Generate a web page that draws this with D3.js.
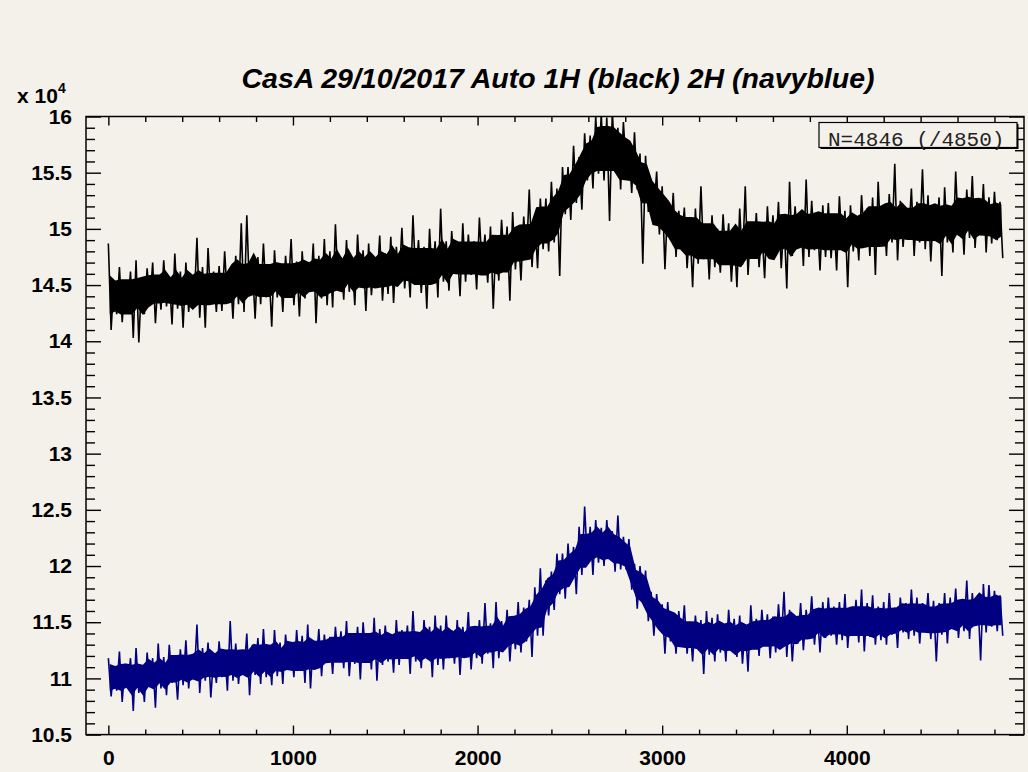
<!DOCTYPE html>
<html>
<head>
<meta charset="utf-8">
<script src="https://cdn.jsdelivr.net/npm/d3@7"></script>
<style>
  html, body { margin: 0; padding: 0; background: #f4f1ea; }
  svg { display: block; }
</style>
</head>
<body>
<svg id="chart" width="1028" height="772"></svg>
<script>
// Samples are grouped in bins of 30; each bin keeps its highest and lowest reading
// (in units of 10^4 counts). The trace zig-zags between them.
const binSize = 30;

const blackHi = [
  14.87, 14.54, 14.66, 14.53, 14.62, 14.72, 14.53, 14.65, 14.70, 14.58,
  14.72, 14.57, 14.78, 14.62, 14.70, 14.56, 14.92, 14.66, 14.83, 14.62,
  14.67, 14.80, 14.62, 14.76, 15.05, 15.12, 14.68, 14.75, 14.87, 14.64,
  14.81, 14.67, 14.76, 14.91, 14.71, 14.80, 14.68, 14.87, 14.76, 14.91,
  14.80, 15.04, 14.75, 14.90, 14.73, 14.95, 14.81, 14.87, 14.74, 14.94,
  14.78, 14.93, 14.84, 15.01, 14.78, 15.12, 14.90, 14.84, 15.00, 14.89,
  15.18, 14.89, 14.98, 14.85, 15.05, 14.95, 14.89, 15.10, 14.95, 15.02,
  14.93, 15.08, 15.02, 15.15, 15.00, 15.11, 15.35, 15.11, 15.27, 15.27,
  15.42, 15.36, 15.55, 15.55, 15.74, 15.64, 15.85, 15.83, 16.00, 16.02,
  15.99, 16.05, 15.90, 15.95, 15.76, 15.86, 15.67, 15.65, 15.44, 15.51,
  15.38, 15.24, 15.32, 15.16, 15.19, 15.04, 15.18, 15.38, 15.04, 15.12,
  15.00, 15.13, 15.05, 14.96, 15.18, 15.38, 15.05, 15.14, 15.00, 15.20,
  15.12, 15.24, 15.08, 15.42, 15.20, 15.14, 15.44, 15.25, 15.10, 15.21,
  15.23, 15.10, 15.29, 15.16, 15.21, 15.10, 15.30, 15.18, 15.28, 15.42,
  15.19, 15.31, 15.58, 15.25, 15.17, 15.36, 15.24, 15.53, 15.30, 15.20,
  15.28, 15.37, 15.20, 15.51, 15.26, 15.35, 15.47, 15.23, 15.40, 15.28,
  15.33, 15.24
];
const blackLo = [
  14.10, 14.24, 14.17, 14.29, 14.03, 13.99, 14.24, 14.32, 14.16, 14.28,
  14.31, 14.15, 14.29, 14.12, 14.26, 14.35, 14.21, 14.12, 14.34, 14.26,
  14.27, 14.37, 14.20, 14.33, 14.26, 14.41, 14.20, 14.33, 14.39, 14.13,
  14.39, 14.26, 14.44, 14.32, 14.22, 14.38, 14.44, 14.16, 14.38, 14.32,
  14.30, 14.48, 14.37, 14.44, 14.32, 14.48, 14.27, 14.41, 14.50, 14.36,
  14.42, 14.34, 14.52, 14.47, 14.39, 14.56, 14.43, 14.29, 14.52, 14.39,
  14.53, 14.45, 14.60, 14.40, 14.53, 14.59, 14.46, 14.63, 14.52, 14.29,
  14.54, 14.67, 14.36, 14.64, 14.54, 14.75, 14.66, 14.65, 14.82, 14.80,
  14.88, 14.58, 15.13, 15.08, 15.23, 15.17, 15.43, 15.36, 15.49, 15.43,
  15.07, 15.53, 15.35, 15.53, 15.32, 15.35, 14.69, 15.15, 15.15, 14.95,
  14.64, 14.90, 14.75, 14.84, 14.65, 14.48, 14.69, 14.73, 14.55, 14.66,
  14.61, 14.71, 14.53, 14.48, 14.68, 14.59, 14.75, 14.66, 14.56, 14.74,
  14.77, 14.65, 14.47, 14.76, 14.84, 14.67, 14.75, 14.81, 14.63, 14.75,
  14.74, 14.63, 14.83, 14.48, 14.80, 14.72, 14.88, 14.76, 14.59, 14.86,
  14.76, 14.88, 14.72, 14.84, 14.92, 14.76, 14.88, 14.82, 14.71, 14.92,
  14.58, 14.88, 14.79, 14.94, 14.77, 14.92, 14.83, 14.96, 14.79, 14.87,
  14.90, 14.74
];

const navyHi = [
  11.18, 11.09, 11.24, 11.13, 11.18, 11.27, 11.11, 11.23, 11.18, 11.31,
  11.19, 11.30, 11.15, 11.26, 11.34, 11.19, 11.48, 11.27, 11.32, 11.19,
  11.33, 11.24, 11.51, 11.31, 11.23, 11.40, 11.30, 11.36, 11.44, 11.29,
  11.43, 11.32, 11.39, 11.31, 11.43, 11.38, 11.48, 11.34, 11.44, 11.39,
  11.37, 11.46, 11.42, 11.51, 11.36, 11.46, 11.50, 11.40, 11.54, 11.44,
  11.47, 11.39, 11.52, 11.43, 11.47, 11.60, 11.39, 11.52, 11.46, 11.56,
  11.47, 11.56, 11.43, 11.52, 11.46, 11.59, 11.42, 11.52, 11.67, 11.49,
  11.68, 11.51, 11.61, 11.52, 11.68, 11.63, 11.70, 11.81, 11.98, 11.87,
  11.95, 12.11, 12.11, 12.20, 12.17, 12.35, 12.53, 12.35, 12.41, 12.34,
  12.41, 12.31, 12.45, 12.26, 12.24, 12.02, 12.00, 11.96, 11.77, 11.75,
  11.66, 11.68, 11.55, 11.60, 11.65, 11.49, 11.56, 11.52, 11.60, 11.54,
  11.57, 11.48, 11.61, 11.53, 11.56, 11.48, 11.65, 11.53, 11.61, 11.57,
  11.55, 11.66, 11.77, 11.61, 11.55, 11.67, 11.61, 11.73, 11.60, 11.68,
  11.72, 11.64, 11.68, 11.75, 11.61, 11.70, 11.79, 11.67, 11.74, 11.64,
  11.68, 11.76, 11.63, 11.72, 11.67, 11.79, 11.72, 11.67, 11.76, 11.69,
  11.67, 11.76, 11.72, 11.80, 11.67, 11.87, 11.76, 11.72, 11.84, 11.83,
  11.78, 11.74
];
const navyLo = [
  10.84, 10.89, 10.79, 10.93, 10.71, 10.87, 10.79, 10.93, 10.74, 10.91,
  10.85, 10.96, 10.81, 10.94, 10.91, 11.00, 10.87, 10.98, 10.83, 10.96,
  11.01, 10.89, 10.98, 10.95, 11.05, 10.85, 11.03, 10.95, 11.01, 10.94,
  11.02, 10.95, 11.10, 11.01, 11.08, 10.96, 10.91, 11.09, 11.02, 11.15,
  11.04, 11.15, 11.09, 11.02, 11.13, 10.99, 11.16, 11.08, 10.98, 11.12,
  11.15, 11.05, 11.12, 11.19, 11.04, 11.15, 11.09, 11.19, 11.01, 11.12,
  11.08, 11.18, 11.13, 11.03, 11.22, 11.08, 11.18, 11.13, 11.22, 11.09,
  11.18, 11.26, 11.15, 11.26, 11.23, 11.33, 11.19, 11.38, 11.38, 11.56,
  11.61, 11.75, 11.71, 11.85, 11.75, 11.92, 12.02, 11.92, 12.03, 12.00,
  12.06, 11.95, 11.97, 11.97, 11.79, 11.62, 11.67, 11.51, 11.38, 11.46,
  11.22, 11.33, 11.22, 11.31, 11.22, 11.15, 11.26, 11.04, 11.21, 11.15,
  11.23, 11.15, 11.26, 11.19, 11.13, 11.06, 11.26, 11.20, 11.30, 11.18,
  11.23, 11.32, 11.19, 11.15, 11.31, 11.25, 11.37, 11.30, 11.23, 11.36,
  11.38, 11.30, 11.34, 11.27, 11.40, 11.32, 11.24, 11.37, 11.30, 11.34,
  11.30, 11.39, 11.27, 11.41, 11.35, 11.38, 11.31, 11.44, 11.35, 11.15,
  11.39, 11.31, 11.44, 11.36, 11.42, 11.35, 11.47, 11.16, 11.41, 11.46,
  11.42, 11.38
];

const xMajorTicks = [0, 1000, 2000, 3000, 4000];
const yMajorTicks = [10.5, 11, 11.5, 12, 12.5, 13, 13.5, 14, 14.5, 15, 15.5, 16];
const titleText = "CasA 29/10/2017 Auto 1H (black) 2H (navyblue)";
const statsText = "N=4846 (/4850)";

const bg = "#f4f1ea";
const fontSans = "'Liberation Sans', Arial, Helvetica, sans-serif";
const frame = { left: 86, right: 1024, top: 116.5, bottom: 734.6 };

const svg = d3.select("#chart");
svg.append("rect").attr("width", 1028).attr("height", 772).attr("fill", bg);

const x = d3.scaleLinear().domain([-121.1, 4960]).range([frame.left, frame.right]);
const y = d3.scaleLinear().domain([10.5, 16]).range([frame.bottom, frame.top]);

// clip traces to the frame
svg.append("defs").append("clipPath").attr("id", "plotClip")
  .append("rect")
  .attr("x", frame.left).attr("y", frame.top)
  .attr("width", frame.right - frame.left).attr("height", frame.bottom - frame.top);

// zig-zag through the bin extremes
function tracePoints(hi, lo) {
  const pts = [];
  hi.forEach((h, i) => {
    pts.push([i * binSize, h]);
    pts.push([i * binSize + binSize / 2, lo[i]]);
  });
  return pts;
}

// dense middle of the trace: a band around the local median level, narrower
// than the bin extremes so that single excursions stand out beyond it
const coreFraction = 0.7;
function coreBand(hi, lo) {
  return hi.map((h, i) => {
    const a = Math.max(0, i - 2), b = Math.min(hi.length - 1, i + 2);
    const mh = d3.median(hi.slice(a, b + 1));
    const ml = d3.median(lo.slice(a, b + 1));
    const mid = (mh + ml) / 2;
    return {
      s: i * binSize + binSize / 4,
      top: mid + coreFraction * (mh - mid),
      bottom: mid - coreFraction * (mid - ml)
    };
  });
}

const line = d3.line().x(d => x(d[0])).y(d => y(d[1]));
const area = d3.area().x(d => x(d.s)).y0(d => y(d.bottom)).y1(d => y(d.top));

const traces = svg.append("g").attr("clip-path", "url(#plotClip)");
[[blackHi, blackLo, "#000000"], [navyHi, navyLo, "#000080"]].forEach(([hi, lo, col]) => {
  traces.append("path")
    .datum(coreBand(hi, lo))
    .attr("d", area)
    .attr("fill", col);
  traces.append("path")
    .datum(tracePoints(hi, lo))
    .attr("d", line)
    .attr("fill", "none")
    .attr("stroke", col)
    .attr("stroke-width", 1.6)
    .attr("stroke-linejoin", "bevel");
});

// axes: ticks drawn inward on all four sides
const xMinor = d3.range(0, 4801, 200).filter(v => v % 1000 !== 0);
const yMinor = d3.range(105, 161).map(v => v / 10).filter(v => Math.round(v * 10) % 5 !== 0);

function styleAxis(g) {
  g.select(".domain").remove();
  g.selectAll(".tick line").attr("stroke", "#000").attr("stroke-width", 1.4);
  g.selectAll(".tick text")
    .attr("fill", "#000")
    .style("font-family", fontSans)
    .style("font-weight", "bold")
    .style("font-size", "21px");
}

// bottom
svg.append("g").attr("transform", `translate(0,${frame.bottom})`)
  .call(d3.axisBottom(x).tickValues(xMajorTicks).tickSize(-9).tickPadding(15).tickFormat(d3.format("d")))
  .call(styleAxis);
svg.append("g").attr("transform", `translate(0,${frame.bottom})`)
  .call(d3.axisBottom(x).tickValues(xMinor).tickSize(-5).tickFormat(""))
  .call(styleAxis);
// top
svg.append("g").attr("transform", `translate(0,${frame.top})`)
  .call(d3.axisTop(x).tickValues(xMajorTicks).tickSize(-9).tickFormat(""))
  .call(styleAxis);
svg.append("g").attr("transform", `translate(0,${frame.top})`)
  .call(d3.axisTop(x).tickValues(xMinor).tickSize(-5.5).tickFormat(""))
  .call(styleAxis);
// left
svg.append("g").attr("transform", `translate(${frame.left},0)`)
  .call(d3.axisLeft(y).tickValues(yMajorTicks).tickSize(-15).tickPadding(14).tickFormat(d3.format("~g")))
  .call(styleAxis);
svg.append("g").attr("transform", `translate(${frame.left},0)`)
  .call(d3.axisLeft(y).tickValues(yMinor).tickSize(-9).tickFormat(""))
  .call(styleAxis);
// right
svg.append("g").attr("transform", `translate(${frame.right},0)`)
  .call(d3.axisRight(y).tickValues(yMajorTicks).tickSize(-15).tickFormat(""))
  .call(styleAxis);
svg.append("g").attr("transform", `translate(${frame.right},0)`)
  .call(d3.axisRight(y).tickValues(yMinor).tickSize(-9).tickFormat(""))
  .call(styleAxis);

// frame
svg.append("rect")
  .attr("x", frame.left).attr("y", frame.top)
  .attr("width", frame.right - frame.left).attr("height", frame.bottom - frame.top)
  .attr("fill", "none").attr("stroke", "#000").attr("stroke-width", 1.5);

// exponent label
const expo = svg.append("text")
  .attr("x", 17).attr("y", 103)
  .style("font-family", fontSans)
  .style("font-weight", "bold").style("font-size", "21px")
  .attr("fill", "#000");
expo.append("tspan").text("x 10");
expo.append("tspan").attr("dy", -10).style("font-size", "14px").text("4");

// title
svg.append("text")
  .attr("x", 558).attr("y", 88)
  .attr("text-anchor", "middle")
  .style("font-family", fontSans)
  .style("font-weight", "bold").style("font-style", "italic").style("font-size", "28.5px")
  .attr("fill", "#000")
  .text(titleText);

// entries box
const box = { x: 819, y: 122.5, w: 198, h: 25 };
svg.append("rect")
  .attr("x", box.x + 1.5).attr("y", box.y + 1.5).attr("width", box.w).attr("height", box.h)
  .attr("fill", "#000");
svg.append("rect")
  .attr("x", box.x).attr("y", box.y).attr("width", box.w).attr("height", box.h)
  .attr("fill", bg).attr("stroke", "#000").attr("stroke-width", 1.2);
svg.append("text")
  .attr("x", 828).attr("y", 145.5)
  .style("font-family", "'Liberation Mono', 'Courier New', monospace")
  .style("font-size", "21px")
  .attr("fill", "#222")
  .text(statsText);
</script>
</body>
</html>
